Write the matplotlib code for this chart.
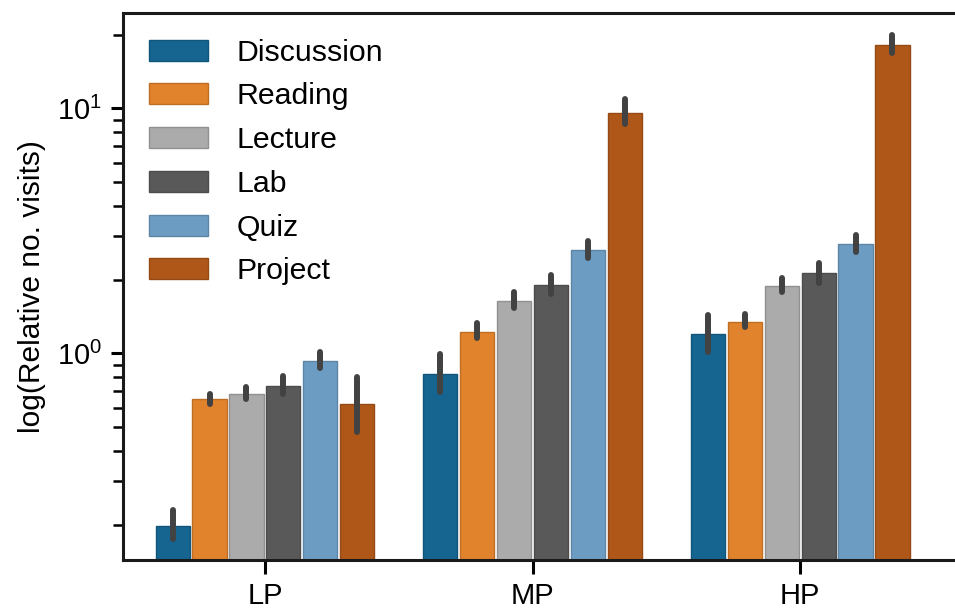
import matplotlib.pyplot as plt
import numpy as np
import seaborn as sns

# visits per activity type, relative to baseline, for each performance group
groups = ["LP", "MP", "HP"]
activities = ["Discussion", "Reading", "Lecture", "Lab", "Quiz", "Project"]

mean_visits = {
    "Discussion": [0.198, 0.821, 1.20],
    "Reading":    [0.651, 1.225, 1.346],
    "Lecture":    [0.680, 1.64, 1.883],
    "Lab":        [0.738, 1.90, 2.121],
    "Quiz":       [0.933, 2.64, 2.786],
    "Project":    [0.623, 9.60, 18.08],
}
ci_low = {
    "Discussion": [0.175, 0.695, 1.012],
    "Reading":    [0.621, 1.155, 1.28],
    "Lecture":    [0.651, 1.535, 1.779],
    "Lab":        [0.682, 1.746, 1.936],
    "Quiz":       [0.871, 2.449, 2.59],
    "Project":    [0.477, 8.64, 16.82],
}
ci_high = {
    "Discussion": [0.229, 0.993, 1.44],
    "Reading":    [0.685, 1.329, 1.447],
    "Lecture":    [0.727, 1.784, 2.03],
    "Lab":        [0.808, 2.087, 2.337],
    "Quiz":       [1.012, 2.873, 3.04],
    "Project":    [0.800, 10.91, 19.92],
}

base_colors = ["#006BA4", "#FF800E", "#ABABAB", "#595959", "#5F9ED1", "#C85200"]

plt.rcParams["font.family"] = ["Liberation Sans", "DejaVu Sans"]

fig = plt.figure(figsize=(9.55, 6.1), dpi=100)
ax = fig.add_axes([123 / 955, 1 - 560 / 610, 870 / 955, 547 / 610])

x = np.arange(len(groups))
slot = 0.1378
width = 0.128
for i, act in enumerate(activities):
    fill = sns.desaturate(base_colors[i], 0.75)
    edge = tuple(c * 0.85 for c in sns.utils.to_rgb(fill))
    pos = x + (i - 2.5) * slot
    ax.bar(pos, mean_visits[act], width=width, color=fill, edgecolor=edge,
           linewidth=1, label=act, zorder=2)
    ax.vlines(pos, ci_low[act], ci_high[act], color="#424242", linewidth=4.3,
              capstyle="round", zorder=3)

ax.set_yscale("log")
ax.set_ylim(0.1433, 24.5)
ax.set_xlim(-0.53, 2.72)
ax.set_xticks(x)
ax.set_xticklabels(groups)
ax.set_ylabel("log(Relative no. visits)", fontsize=21.5, labelpad=8)

for s in ax.spines.values():
    s.set_linewidth(2.2)
    s.set_color("#1a1a1a")
ax.tick_params(axis="x", which="major", length=10, width=2.2, labelsize=21, pad=6)
ax.tick_params(axis="y", which="major", length=9, width=2.2, labelsize=21, pad=6)
ax.tick_params(axis="y", which="minor", length=7, width=1.8)
ax.tick_params(axis="x", which="minor", bottom=False)

ax.legend(loc="upper left", frameon=False, fontsize=21.8, handlelength=1.95,
          handleheight=0.7, handletextpad=0.95, labelspacing=0.52,
          borderaxespad=0.45)

fig.savefig("out.png", dpi=100)
